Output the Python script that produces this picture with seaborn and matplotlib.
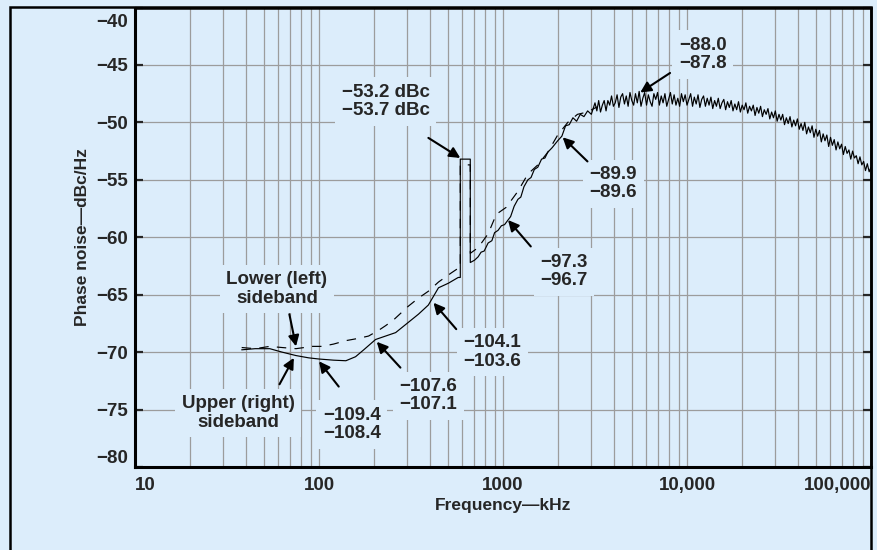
import numpy as np
import pandas as pd
import matplotlib
matplotlib.use('Agg')
import matplotlib.pyplot as plt
import matplotlib.transforms as mtransforms
from matplotlib.patches import Rectangle
import seaborn as sns

# Upper (right) sideband -- solid trace, kHz vs dBc/Hz
upper_khz = [38, 45, 54, 63, 75, 88, 100, 120, 140, 158, 175, 203, 230, 261, 306, 347,
             393, 446, 505, 571, 586, 586, 664, 664, 700, 733, 760, 790, 830, 870,
             900, 940, 980, 1020, 1065, 1100, 1150, 1205, 1250, 1300, 1365, 1420,
             1480, 1546, 1620, 1690, 1751, 1850, 1983,
             2089, 2188, 2291, 2399, 2512, 2630, 2754, 2884, 3020,
             3162, 3236, 3311, 3388, 3467, 3548, 3631, 3715, 3802, 3890,
             3981, 4074, 4169, 4266, 4365, 4467, 4571, 4677, 4786, 4898,
             5012, 5129, 5248, 5370, 5495, 5623, 5754, 5888, 6026, 6166,
             6310, 6457, 6607, 6761, 6918, 7079, 7244, 7413, 7586, 7762,
             7943, 8128, 8318, 8511, 8710, 8913, 9120, 9333, 9550, 9772,
             10000, 10230, 10470, 10720, 10960, 11220, 11480, 11750, 12020, 12300,
             12590, 12880, 13180, 13490, 13800, 14130, 14450, 14790, 15140, 15490,
             15850, 16220, 16600, 16980, 17380, 17780, 18200, 18620, 19050, 19500,
             19950, 20420, 20890, 21380, 21880, 22390, 22910, 23440, 23990, 24550,
             25120, 25700, 26300, 26920, 27540, 28180, 28840, 29510, 30200, 30900,
             31620, 32360, 33110, 33880, 34670, 35480, 36310, 37150, 38020, 38900,
             39810, 40740, 41690, 42660, 43650, 44670, 45710, 46770, 47860, 48980,
             50120, 51290, 52480, 53700, 54950, 56230, 57540, 58880, 60260, 61660,
             63100, 64570, 66070, 67610, 69180, 70790, 72440, 74130, 75860, 77620,
             79430, 81280, 83180, 85110, 87100, 89130, 91200, 93330, 95500, 97720,
             100000]
upper_dbc = [-69.8, -69.7, -69.7, -70.0, -70.3, -70.5, -70.6, -70.7, -70.75, -70.4, -69.8, -68.9, -68.6, -68.3, -67.4, -66.7,
             -65.9, -64.4, -64.0, -63.5, -63.5, -53.2, -53.2, -62.2, -62.0, -61.7, -61.3, -61.2, -60.5, -60.3,
             -59.6, -59.4, -59.0, -58.9, -58.5, -58.2, -57.3, -56.7, -56.5, -55.6, -55.0, -54.8,
             -54.1, -53.9, -53.2, -53.1, -52.6, -52.2, -51.6,
             -51.2, -50.3, -50.2, -49.6, -49.9, -49.3, -49.5, -49.0, -49.3,
             -48.3, -49.0, -48.1, -49.1, -48.5, -48.1, -49.0, -48.1, -48.5, -47.7,
             -48.6, -48.3, -47.6, -48.7, -47.8, -47.5, -48.4, -47.7, -48.6, -47.4,
             -48.1, -48.5, -47.5, -48.3, -47.3, -48.6, -47.9, -47.4, -48.5, -47.6,
             -48.2, -48.6, -47.5, -48.0, -47.4, -48.5, -47.7, -48.3, -47.5, -48.6,
             -48.0, -47.4, -48.4, -47.6, -48.5, -47.9, -48.6, -47.5, -48.2, -47.6,
             -48.5, -48.0, -47.5, -48.6, -47.8, -48.4, -47.6, -48.7, -48.0, -47.7,
             -48.6, -47.9, -48.5, -47.8, -48.8, -48.1, -48.6, -47.9, -48.8, -48.3,
             -48.0, -48.9, -48.2, -48.7, -48.1, -49.0, -48.4, -48.9, -48.2, -49.1,
             -48.5, -48.9, -48.3, -49.2, -48.6, -49.0, -48.5, -49.4, -48.7, -49.2,
             -48.6, -49.5, -48.9, -49.3, -48.8, -49.7, -49.1, -49.6, -49.0, -49.9,
             -49.3, -49.8, -49.3, -50.2, -49.6, -50.1, -49.5, -50.4, -49.8, -50.3,
             -49.7, -50.6, -50.1, -50.7, -50.0, -51.0, -50.4, -50.9, -50.3, -51.3,
             -50.6, -51.2, -50.7, -51.7, -51.0, -51.6, -51.1, -52.1, -51.3, -52.0,
             -51.5, -52.4, -51.7, -52.3, -51.9, -52.8, -52.1, -52.7, -52.4, -53.2,
             -52.5, -53.1, -52.9, -53.6, -53.0, -53.7, -53.4, -54.2, -53.6, -54.3,
             -53.9]

# Lower (left) sideband -- dashed trace
lower_khz = [38, 45, 54, 63, 75, 92, 104, 120, 140, 164, 186, 211, 230, 254, 306, 347,
             393, 446, 524, 571, 586, 586, 664, 664, 733, 830, 920, 1040, 1205, 1365,
             1546, 1751, 1983, 2250, 2540, 2870, 3250]
lower_dbc = [-69.6, -69.7, -69.5, -69.6, -69.7, -69.5, -69.5, -69.3, -69.0, -68.8, -68.6, -68.1, -67.7, -67.2, -66.0, -65.3,
             -64.7, -63.9, -63.1, -62.7, -62.7, -53.7, -53.7, -61.4, -60.9, -59.7, -58.0, -57.4, -56.0, -54.5,
             -53.7, -52.6, -51.1, -50.0, -49.3, -49.1, -48.65]

x_ticks = [10, 100, 1000, 10000, 100000]
x_tick_labels = ['10', '100', '1000', '10,000', '100,000']
y_ticks = [-80, -75, -70, -65, -60, -55, -50, -45, -40]
y_tick_labels = ['\u221280', '\u221275', '\u221270', '\u221265', '\u221260',
                 '\u221255', '\u221250', '\u221245', '\u221240']

# annotation text, text centre, arrow tail, arrow tip (kHz, dBc/Hz)
notes = [
    ('Lower (left)\nsideband', (59, -64.5), (69, -66.7), (75, -69.5)),
    ('Upper (right)\nsideband', (36.5, -75.3), (61, -72.8), (73, -70.5)),
    ('\u2212109.4\n\u2212108.4', (151, -76.3), (128, -73.0), (100, -70.8)),
    ('\u2212107.6\n\u2212107.1', (393, -73.8), (277, -71.35), (206, -69.1)),
    ('\u2212104.1\n\u2212103.6', (873, -70.0), (557, -68.0), (419, -65.7)),
    ('\u221297.3\n\u221296.7', (2140, -63.0), (1416, -60.8), (1065, -58.5)),
    ('\u221289.9\n\u221289.6', (3980, -55.35), (2878, -53.4), (2109, -51.3)),
    ('\u221288.0\n\u221287.8', (12190, -44.1), (8090, -45.7), (5570, -47.4)),
    ('\u221253.2 dBc\n\u221253.7 dBc', (230, -48.2), (393, -51.35), (586, -53.1)),
]

bg = '#dcedfb'
grid_col = '#9c9c9c'

sns.set_style('white')
plt.rcParams['font.family'] = ['Liberation Sans', 'DejaVu Sans']

df = pd.concat([
    pd.DataFrame({'Frequency': upper_khz, 'Noise': upper_dbc, 'Sideband': 'Upper'}),
    pd.DataFrame({'Frequency': lower_khz, 'Noise': lower_dbc, 'Sideband': 'Lower'}),
], ignore_index=True)

fig = plt.figure(figsize=(8.78, 5.5), dpi=100, facecolor=bg)
ax = fig.add_axes([135 / 878, 1 - 467 / 550, 736 / 878, 459.5 / 550])
ax.set_facecolor(bg)
ax.set_xscale('log')

sns.lineplot(data=df, x='Frequency', y='Noise', style='Sideband',
             dashes={'Upper': '', 'Lower': (8, 7)}, color='black', lw=0.85,
             sort=False, estimator=None, legend=False, ax=ax, zorder=3)

ax.set_xlim(10, 100000)
ax.set_ylim(-80, -40)
ax.set_axisbelow(True)
ax.grid(which='both', axis='x', color=grid_col, lw=0.9)
ax.grid(which='major', axis='y', color=grid_col, lw=0.9)

ax.set_xticks(x_ticks, x_tick_labels)
ax.set_yticks(y_ticks, y_tick_labels)
ax.tick_params(axis='x', which='both', length=0, pad=7, labelsize=13.5)
ax.tick_params(axis='y', direction='in', length=6, width=1.6, left=True, right=True,
               pad=5, labelsize=13.5)
for lbl in ax.get_xticklabels() + ax.get_yticklabels():
    lbl.set_fontweight('bold')
ax.get_xticklabels()[0].set_ha('left')
ax.get_xticklabels()[-1].set_ha('right')
ax.get_yticklabels()[0].set_va('bottom')
top_lbl = ax.get_yticklabels()[-1]
top_lbl.set_va('top')
top_lbl.set_transform(top_lbl.get_transform() +
                      mtransforms.ScaledTranslation(0, -5 / 72, fig.dpi_scale_trans))

ax.set_xlabel('Frequency\u2014kHz', fontsize=12.5, fontweight='bold')
ax.set_ylabel('Phase noise\u2014dBc/Hz', fontsize=12.5, fontweight='bold')
ax.xaxis.set_label_coords(0.5, -0.067)
ax.yaxis.set_label_coords(-0.061, 0.5)

for side in ['left', 'bottom']:
    ax.spines[side].set_linewidth(2.2)
for side in ['top', 'right']:
    ax.spines[side].set_linewidth(1.8)
for sp in ax.spines.values():
    sp.set_color('black')

for text, pos, tail, tip in notes:
    ax.text(pos[0], pos[1], text, ha='center', va='center', fontsize=13.5,
            fontweight='bold', linespacing=1.1, zorder=4,
            bbox=dict(boxstyle='square,pad=0.35', fc=bg, ec='none'))
    ax.annotate('', xy=tip, xytext=tail, zorder=5,
                arrowprops=dict(arrowstyle='-|>', color='black', lw=1.5,
                                mutation_scale=16, shrinkA=0, shrinkB=0))

fig.add_artist(Rectangle((10 / 878, -0.05), 861 / 878, 1.05 - 7 / 550,
                         transform=fig.transFigure, fill=False, ec='black',
                         lw=1.8, clip_on=False))

fig.savefig('out.png', dpi=100, facecolor=bg)
